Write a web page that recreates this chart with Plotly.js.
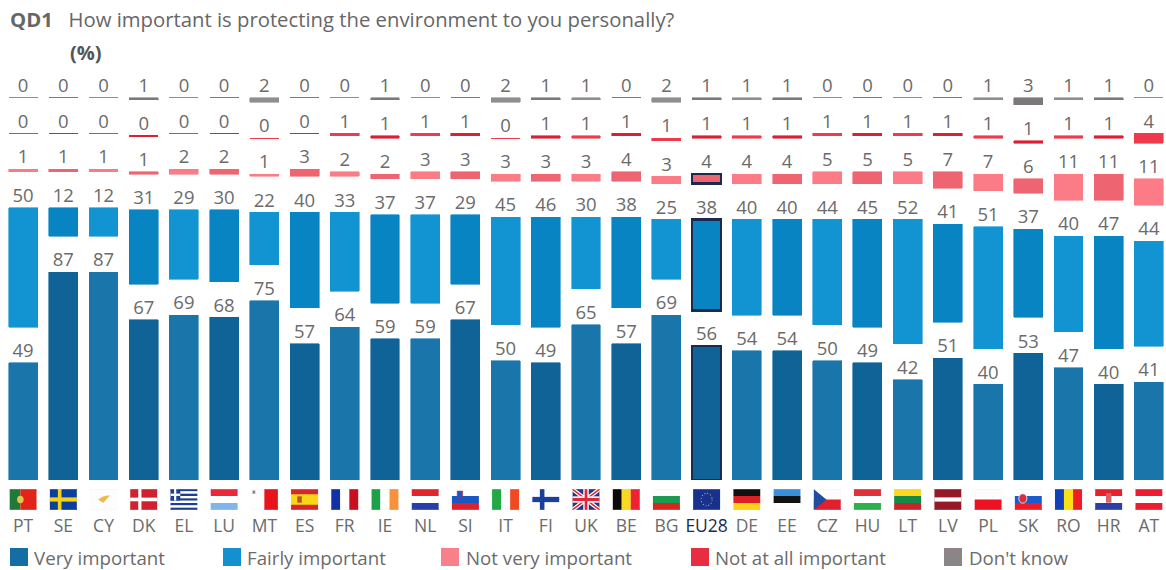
<!DOCTYPE html>
<html>
<head>
<meta charset="utf-8">
<script src="https://cdn.plot.ly/plotly-3.0.1.min.js"></script>
<style>html,body{margin:0;padding:0;background:#fff;overflow:hidden}</style>
</head>
<body>
<div id="chart" style="width:1166px;height:570px"></div>
<script>
const countries = ["PT","SE","CY","DK","EL","LU","MT","ES","FR","IE","NL","SI","IT","FI","UK","BE","BG","EU28","DE","EE","CZ","HU","LT","LV","PL","SK","RO","HR","AT"];
const veryImportant   = [49,87,87,67,69,68,75,57,64,59,59,67,50,49,65,57,69,56,54,54,50,49,42,51,40,53,47,40,41];
const fairlyImportant = [50,12,12,31,29,30,22,40,33,37,37,29,45,46,30,38,25,38,40,40,44,45,52,41,51,37,40,47,44];
const notVery         = [1,1,1,1,2,2,1,3,2,2,3,3,3,3,3,4,3,4,4,4,5,5,5,7,7,6,11,11,11];
const notAtAll        = [0,0,0,0,0,0,0,0,1,1,1,1,0,1,1,1,1,1,1,1,1,1,1,1,1,1,1,1,4];
const dontKnow        = [0,0,0,1,0,0,2,0,0,1,0,0,2,1,1,0,2,1,1,1,0,0,0,0,1,3,1,1,0];
const rowGap = 15;
const labelLift = 0.5;

const seriesNames = ["Very important","Fairly important","Not very important","Not at all important","Don't know"];
const seriesValues = [veryImportant,fairlyImportant,notVery,notAtAll,dontKnow];
const lightColors = ["#1a75aa","#1293d2","#fb7b86","#ee3a4c","#8f8d8e"];
const darkColors  = ["#0f6397","#0884c3","#ee6470","#dc1f35","#7d797b"];
const euOutline = [true,true,true,false,false];
const euIndex = countries.indexOf("EU28");
const navy = "#1b2a4e";
const textColor = "#6b6b6b";
const fontFam = '"Open Sans", "Noto Sans", sans-serif';

const xs = countries.map((_, i) => i);
const traces = [];
const cumulative = countries.map(() => 0);
seriesValues.forEach((vals, s) => {
  traces.push({
    type: "bar", name: seriesNames[s], x: xs, y: vals, hoverinfo: "skip", showlegend: false,
    marker: {
      color: vals.map((_, i) => i % 2 ? darkColors[s] : lightColors[s]),
      line: {
        color: vals.map((_, i) => (i === euIndex && euOutline[s]) ? navy : (i % 2 ? darkColors[s] : lightColors[s])),
        width: vals.map((v, i) => (i === euIndex && euOutline[s]) ? 2.4 : (v === 0 ? 1.4 : 0.6))
      }
    }
  });
  const tops = vals.map((v, i) => cumulative[i] + v);
  traces.push({
    type: "scatter", mode: "text", x: xs, y: tops.map(t => t + labelLift), text: vals.map(String),
    textposition: "top center", hoverinfo: "skip", showlegend: false, cliponaxis: false,
    textfont: {family: fontFam, size: 18.5, color: textColor}, yaxis: "y", xaxis: "x"
  });
  vals.forEach((v, i) => cumulative[i] = tops[i] + rowGap);
  if (s < seriesValues.length - 1) {
    traces.push({
      type: "bar", x: xs, y: vals.map(() => rowGap), hoverinfo: "skip", showlegend: false,
      marker: {color: "rgba(0,0,0,0)", line: {width: 0}}
    });
  }
});
const hs = cols => cols.map((c, i) => `<rect x="0" y="${i * 20 / cols.length}" width="30" height="${20 / cols.length + .1}" fill="${c}"/>`).join("");
const vs = cols => cols.map((c, i) => `<rect x="${i * 30 / cols.length}" y="0" width="${30 / cols.length + .1}" height="20" fill="${c}"/>`).join("");
const flagArt = {
  PT: `<rect width="12" height="20" fill="#1f7a3a"/><rect x="12" width="18" height="20" fill="#e2231a"/><circle cx="12" cy="10" r="3.6" fill="#e8c24a"/>`,
  SE: `<rect width="30" height="20" fill="#0a3f9c"/><rect x="9" width="4" height="20" fill="#f7d116"/><rect y="8" width="30" height="4" fill="#f7d116"/>`,
  CY: `<rect width="30" height="20" fill="#fdfdfd"/><path d="M9 10 L15 7 L22 6 L18 10 L15 13 L12 12 Z" fill="#f0b84a"/>`,
  DK: `<rect width="30" height="20" fill="#d2202f"/><rect x="9" width="3.5" height="20" fill="#fff"/><rect y="8.2" width="30" height="3.5" fill="#fff"/>`,
  EL: hs(["#1c3f95","#fff","#1c3f95","#fff","#1c3f95","#fff","#1c3f95","#fff","#1c3f95"]) + `<rect width="11" height="11" fill="#1c3f95"/><rect x="4.2" width="2.4" height="11" fill="#fff"/><rect y="4.4" width="11" height="2.2" fill="#fff"/>`,
  LU: hs(["#ea2839","#fff","#7fb5ec"]),
  MT: vs(["#fdfdfd","#e8141c"]) + `<rect x="2" y="1.5" width="3" height="3" fill="#888"/>`,
  ES: `<rect width="30" height="20" fill="#d8262c"/><rect y="5" width="30" height="10" fill="#f9d616"/><rect x="7" y="7" width="5" height="6" fill="#b5552a"/>`,
  FR: vs(["#1230a8","#fff","#c8101e"]),
  IE: vs(["#1ea04a","#fff","#f7923a"]),
  NL: hs(["#e0252c","#fff","#2740a8"]),
  SI: hs(["#fff","#1858c4","#e0202a"]) + `<path d="M6 2h6v5c0 2-3 3-3 3s-3-1-3-3z" fill="#1858c4" stroke="#e0202a" stroke-width=".6"/>`,
  IT: vs(["#22a844","#fff","#f04a22"]),
  FI: `<rect width="30" height="20" fill="#fff"/><rect x="8.5" width="5" height="20" fill="#1a3f9c"/><rect y="7.5" width="30" height="5" fill="#1a3f9c"/>`,
  UK: `<rect width="30" height="20" fill="#24367f"/><path d="M0 0L30 20M30 0L0 20" stroke="#fff" stroke-width="4"/><path d="M0 0L30 20M30 0L0 20" stroke="#e0263a" stroke-width="1.5"/><rect x="12" width="6" height="20" fill="#fff"/><rect y="7" width="30" height="6" fill="#fff"/><rect x="13.5" width="3" height="20" fill="#e0263a"/><rect y="8.5" width="30" height="3" fill="#e0263a"/>`,
  BE: vs(["#0a0a0a","#f8d820","#ee2233"]),
  BG: hs(["#fdfdfd","#1c9a54","#d8261c"]),
  EU28: `<rect width="30" height="20" fill="#17318f"/><circle cx="15" cy="10" r="6" fill="none" stroke="#e0c040" stroke-width="1" stroke-dasharray="1 2.14"/>`,
  DE: hs(["#111","#dd1f26","#fcd116"]),
  EE: hs(["#3a8fdc","#111","#fdfdfd"]),
  CZ: hs(["#fdfdfd","#e0202e"]) + `<path d="M0 0L14 10L0 20Z" fill="#1f4da0"/>`,
  HU: hs(["#e0303a","#fff","#2eb04a"]),
  LT: hs(["#fbd820","#158a48","#c8242c"]),
  LV: `<rect width="30" height="20" fill="#951a26"/><rect y="8" width="30" height="4" fill="#fff"/>`,
  PL: hs(["#fdfdfd","#ee1122"]),
  SK: hs(["#fdfdfd","#1a5cd0","#ee1c25"]) + `<circle cx="9" cy="9" r="4.5" fill="#d8303a" stroke="#fff" stroke-width=".8"/>`,
  RO: vs(["#1240b8","#fce016","#ee1c25"]),
  HR: hs(["#e8202c","#fff","#2a3fa8"]) + `<rect x="12" y="4" width="6" height="9" fill="#d8606a"/>`,
  AT: hs(["#ee1c30","#fff","#ee1c30"])
};
const flagSource = code => "data:image/svg+xml," + encodeURIComponent(
  `<svg xmlns="http://www.w3.org/2000/svg" width="120" height="80" viewBox="0 0 30 20" preserveAspectRatio="none">${flagArt[code]}<rect x=".1" y=".1" width="29.8" height="19.8" fill="none" stroke="#e2e2e2" stroke-width=".2"/></svg>`);

const plotH = 420;
const images = countries.map((c, i) => ({
  source: flagSource(c), xref: "x", yref: "paper", x: i, y: -9 / plotH,
  sizex: 0.68, sizey: 21 / plotH, xanchor: "center", yanchor: "top", sizing: "stretch", layer: "above"
}));

const legendX = [10, 223, 441, 691, 944];
const legendTextX = [32, 245, 464, 713, 967];
const legendSwatch = ["#146ea4","#1290d0","#f8808a","#e62d42","#8b8587"];
const shapes = legendX.map((x, i) => ({
  type: "rect", xref: "paper", yref: "paper",
  x0: (x - 3) / 1163, x1: (x + 18 - 3) / 1163,
  y0: -(566 - 480) / plotH, y1: -(548 - 480) / plotH,
  fillcolor: legendSwatch[i], line: {width: 0}
}));
const annotations = legendX.map((x, i) => ({
  xref: "paper", yref: "paper", x: (legendTextX[i] - 3) / 1163, y: -(557 - 480) / plotH,
  xanchor: "left", yanchor: "middle", showarrow: false, text: seriesNames[i],
  font: {family: fontFam, size: 18.7, color: textColor}
}));
annotations.push({
  xref: "paper", yref: "paper", x: (68 - 3) / 1163, y: (480 - 52) / plotH,
  xanchor: "left", yanchor: "middle", showarrow: false, text: "<b>(%)</b>",
  font: {family: fontFam, size: 20, color: "#555"}
});

const layout = {
  width: 1166, height: 570, paper_bgcolor: "#fff", plot_bgcolor: "#fff",
  margin: {l: 3, r: 0, t: 60, b: 90},
  barmode: "stack", bargap: 0.28, showlegend: false,
  title: {
    text: "<b>QD1</b>&nbsp;&nbsp;&nbsp;How important is protecting the environment to you personally?",
    x: 7 / 1163, xref: "paper", xanchor: "left", y: 1 - 20 / 570, yanchor: "middle",
    font: {family: fontFam, size: 20.3, color: "#666"}
  },
  xaxis: {
    range: [-0.5, 28.425], tickmode: "array", tickvals: xs,
    ticktext: countries.map(c => c === "EU28" ? `<span style="color:${navy}">EU28</span>` : c),
    tickfont: {family: fontFam, size: 17.5, color: textColor},
    ticks: "", ticklabelstandoff: 33, showgrid: false, zeroline: false, showline: false, fixedrange: true
  },
  yaxis: {range: [0, plotH / 2.39], visible: false, fixedrange: true},
  images, shapes, annotations
};
traces.sort((a, b) => (a.type === "bar" ? 0 : 1) - (b.type === "bar" ? 0 : 1));
Plotly.newPlot("chart", traces, layout, {displayModeBar: false, staticPlot: true});
</script>
</body>
</html>
